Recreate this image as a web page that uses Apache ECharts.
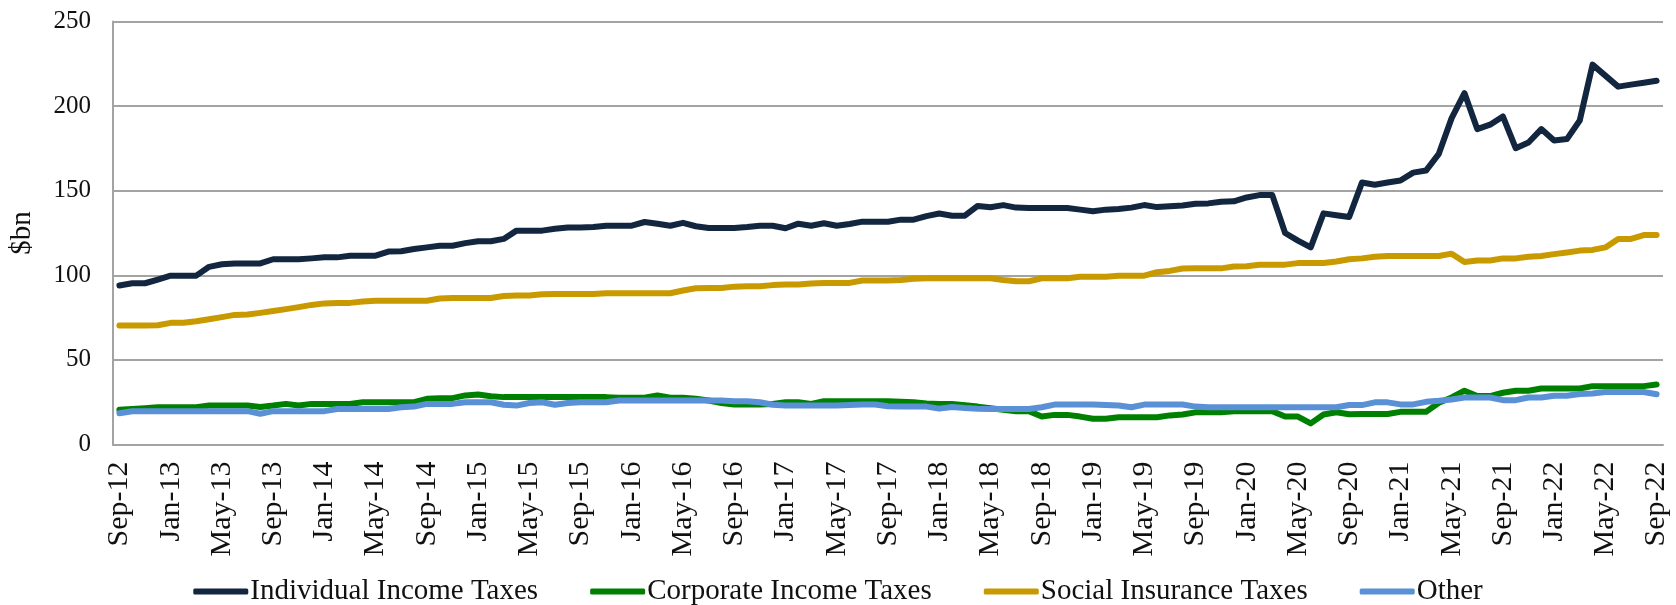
<!DOCTYPE html>
<html>
<head>
<meta charset="utf-8">
<title>Federal receipts by source</title>
<script src="https://cdn.jsdelivr.net/npm/echarts@6/dist/echarts.min.js"></script>
<style>
  html, body { margin: 0; padding: 0; background: #ffffff; }
  #chart { width: 1676px; height: 605px; }
</style>
</head>
<body>
<div id="chart"></div>
<script>
// Monthly series, Sep-2012 to Sep-2022, $bn
const monthNames = ['Jan','Feb','Mar','Apr','May','Jun','Jul','Aug','Sep','Oct','Nov','Dec'];
const startYear = 2012, startMonth = 8, monthCount = 121;

const individualIncomeTaxes = [
  94.0, 95.3, 95.3, 97.5, 99.8, 99.8, 99.8, 105.0, 106.5, 107.0, 107.0, 107.0,
  109.5, 109.5, 109.5, 110.0, 110.6, 110.6, 111.6, 111.6, 111.6, 114.0, 114.2, 115.5,
  116.5, 117.5, 117.5, 119.0, 120.1, 120.1, 121.5, 126.4, 126.4, 126.4, 127.5, 128.3,
  128.3, 128.5, 129.3, 129.3, 129.3, 131.5, 130.5, 129.3, 131.0, 129.0, 128.0, 128.0,
  128.0, 128.5, 129.3, 129.3, 127.8, 130.5, 129.3, 130.8, 129.3, 130.3, 131.7, 131.7,
  131.7, 132.9, 132.9, 135.0, 136.5, 135.2, 135.2, 141.0, 140.2, 141.5, 140.0, 139.8,
  139.8, 139.8, 139.8, 138.8, 137.8, 138.8, 139.2, 140.0, 141.5, 140.3, 140.8, 141.3,
  142.3, 142.5, 143.5, 143.7, 146.0, 147.4, 147.4, 125.0, 120.5, 116.5, 136.6, 135.5,
  134.5, 154.8, 153.5, 154.8, 156.0, 160.7, 161.9, 171.8, 192.9, 207.7, 186.4, 189.0,
  193.9, 175.1, 178.5, 186.4, 179.7, 180.5, 191.5, 224.5, 218.0, 211.5, 212.7, 213.8,
  215.0
];

const corporateIncomeTaxes = [
  20.5, 21.0, 21.5, 22.0, 22.0, 22.0, 22.0, 23.0, 23.0, 23.0, 23.0, 22.2,
  23.0, 24.0, 23.0, 24.0, 24.0, 24.0, 24.0, 25.0, 25.0, 25.0, 25.0, 25.0,
  27.0, 27.4, 27.4, 29.0, 29.5, 28.5, 28.0, 28.0, 28.0, 28.0, 28.0, 28.0,
  28.0, 28.0, 28.0, 27.6, 27.6, 27.6, 29.0, 27.6, 27.6, 27.0, 26.0, 24.5,
  23.6, 23.6, 23.6, 24.0, 25.0, 25.0, 24.0, 25.6, 25.6, 25.6, 25.6, 25.6,
  25.6, 25.3, 25.0, 24.2, 24.0, 24.0, 23.2, 22.4, 21.4, 20.5, 19.7, 19.7,
  16.5, 17.5, 17.5, 16.5, 15.2, 15.2, 16.1, 16.1, 16.1, 16.1, 17.2, 17.7,
  19.0, 19.1, 19.1, 19.7, 19.7, 19.7, 19.7, 16.5, 16.5, 12.5, 17.7, 19.1,
  17.9, 18.0, 18.0, 18.0, 19.3, 19.3, 19.3, 24.7, 27.8, 31.8, 28.6, 28.6,
  30.6, 31.8, 31.8, 33.1, 33.1, 33.1, 33.1, 34.5, 34.5, 34.5, 34.5, 34.5,
  35.5
];

const socialInsuranceTaxes = [
  70.3, 70.3, 70.3, 70.5, 71.9, 71.9, 72.8, 74.0, 75.3, 76.6, 76.8, 77.8,
  78.9, 80.0, 81.2, 82.5, 83.4, 83.7, 83.7, 84.5, 85.0, 85.0, 85.0, 85.0,
  85.0, 86.3, 86.6, 86.6, 86.6, 86.6, 87.8, 88.0, 88.0, 88.8, 89.0, 89.0,
  89.0, 89.0, 89.4, 89.4, 89.4, 89.4, 89.4, 89.4, 91.0, 92.3, 92.5, 92.5,
  93.3, 93.5, 93.5, 94.2, 94.5, 94.5, 95.2, 95.5, 95.5, 95.5, 96.9, 96.9,
  96.9, 97.2, 98.0, 98.2, 98.2, 98.2, 98.2, 98.2, 98.2, 97.2, 96.5, 96.5,
  98.2, 98.2, 98.2, 99.2, 99.2, 99.2, 99.8, 99.8, 99.8, 101.8, 102.6, 104.0,
  104.1, 104.1, 104.1, 105.2, 105.3, 106.2, 106.3, 106.3, 107.2, 107.3, 107.3, 108.2,
  109.5, 110.0, 111.0, 111.4, 111.4, 111.4, 111.4, 111.4, 112.8, 107.8, 108.7, 108.7,
  110.0, 110.0, 111.0, 111.4, 112.5, 113.5, 114.6, 115.0, 116.5, 121.5, 121.5, 123.8,
  123.8
];

const otherReceipts = [
  18.5, 19.7, 19.7, 19.7, 19.7, 19.7, 19.7, 19.7, 19.7, 19.7, 19.7, 18.2,
  19.7, 19.7, 19.7, 19.7, 19.7, 21.0, 21.0, 21.0, 21.0, 21.0, 22.0, 22.4,
  24.0, 24.0, 24.0, 25.0, 25.0, 25.0, 23.5, 23.0, 24.5, 25.0, 23.5, 24.5,
  25.0, 25.0, 25.0, 26.0, 26.0, 26.0, 26.0, 26.0, 26.0, 26.0, 26.0, 26.0,
  25.6, 25.5, 25.0, 23.5, 23.0, 23.0, 23.0, 23.0, 23.0, 23.3, 23.6, 23.6,
  22.6, 22.4, 22.4, 22.4, 21.2, 22.2, 21.6, 21.2, 21.0, 21.0, 21.0, 21.0,
  22.0, 23.6, 23.6, 23.6, 23.6, 23.3, 23.0, 22.0, 23.6, 23.6, 23.6, 23.6,
  22.4, 22.0, 22.0, 22.0, 22.0, 22.0, 22.0, 22.0, 22.0, 22.0, 22.0, 22.0,
  23.3, 23.3, 24.9, 24.9, 23.7, 23.7, 25.2, 25.8, 26.6, 27.8, 27.8, 27.8,
  26.2, 26.2, 27.8, 27.8, 28.8, 28.8, 29.8, 30.2, 31.0, 31.0, 31.0, 31.0,
  29.7
];

const yTicks = { min: 0, max: 250, interval: 50 };
const axisTitle = '$bn';

// Month labels in "Mon-YY" form
const categories = [];
for (let k = 0; k < monthCount; k++) {
  const m = (startMonth + k) % 12;
  const y = startYear + Math.floor((startMonth + k) / 12);
  categories.push(monthNames[m] + '-' + String(y).slice(2));
}

const FONT = '"Liberation Serif", "DejaVu Serif", serif';
const TEXT = '#111111';
const GRID = '#a3a3a3';

const seriesDefs = [
  { name: 'Individual Income Taxes', data: individualIncomeTaxes, color: '#12263f' },
  { name: 'Corporate Income Taxes', data: corporateIncomeTaxes, color: '#008000' },
  { name: 'Social Insurance Taxes', data: socialInsuranceTaxes, color: '#c99a00' },
  { name: 'Other', data: otherReceipts, color: '#5990d6' }
];

const chart = echarts.init(document.getElementById('chart'), null, { renderer: 'canvas' });

chart.setOption({
  animation: false,
  backgroundColor: '#ffffff',
  textStyle: { fontFamily: FONT, color: TEXT },
  grid: { left: 106, right: 13, top: 21.5, bottom: 160.5, containLabel: false },
  legend: {
    top: 572,
    left: 'center',
    icon: 'roundRect',
    itemWidth: 55,
    itemHeight: 6,
    itemGap: 52,
    textStyle: { fontFamily: FONT, fontSize: 29, color: TEXT, padding: [0, 0, 0, -3] },
    data: seriesDefs.map(s => s.name)
  },
  xAxis: {
    type: 'category',
    data: categories,
    boundaryGap: true,
    axisLine: { show: true, lineStyle: { color: GRID, width: 2 } },
    axisTick: { show: false },
    axisLabel: {
      interval: 3,
      rotate: 90,
      margin: 17,
      fontFamily: FONT,
      fontSize: 30,
      color: TEXT
    },
    splitLine: { show: false }
  },
  yAxis: {
    type: 'value',
    min: yTicks.min,
    max: yTicks.max,
    interval: yTicks.interval,
    name: axisTitle,
    nameLocation: 'middle',
    nameRotate: 90,
    nameGap: 76,
    nameTextStyle: { fontFamily: FONT, fontSize: 29, color: TEXT },
    axisLine: { show: true, lineStyle: { color: GRID, width: 2 } },
    axisTick: { show: false },
    axisLabel: { margin: 22, fontFamily: FONT, fontSize: 25, color: TEXT },
    splitLine: { show: true, lineStyle: { color: GRID, width: 2 } }
  },
  series: seriesDefs.map(s => ({
    name: s.name,
    type: 'line',
    data: s.data,
    symbol: 'none',
    smooth: false,
    itemStyle: { color: s.color },
    lineStyle: { color: s.color, width: 6, cap: 'round', join: 'round' },
    emphasis: { disabled: true }
  }))
});
</script>
</body>
</html>
